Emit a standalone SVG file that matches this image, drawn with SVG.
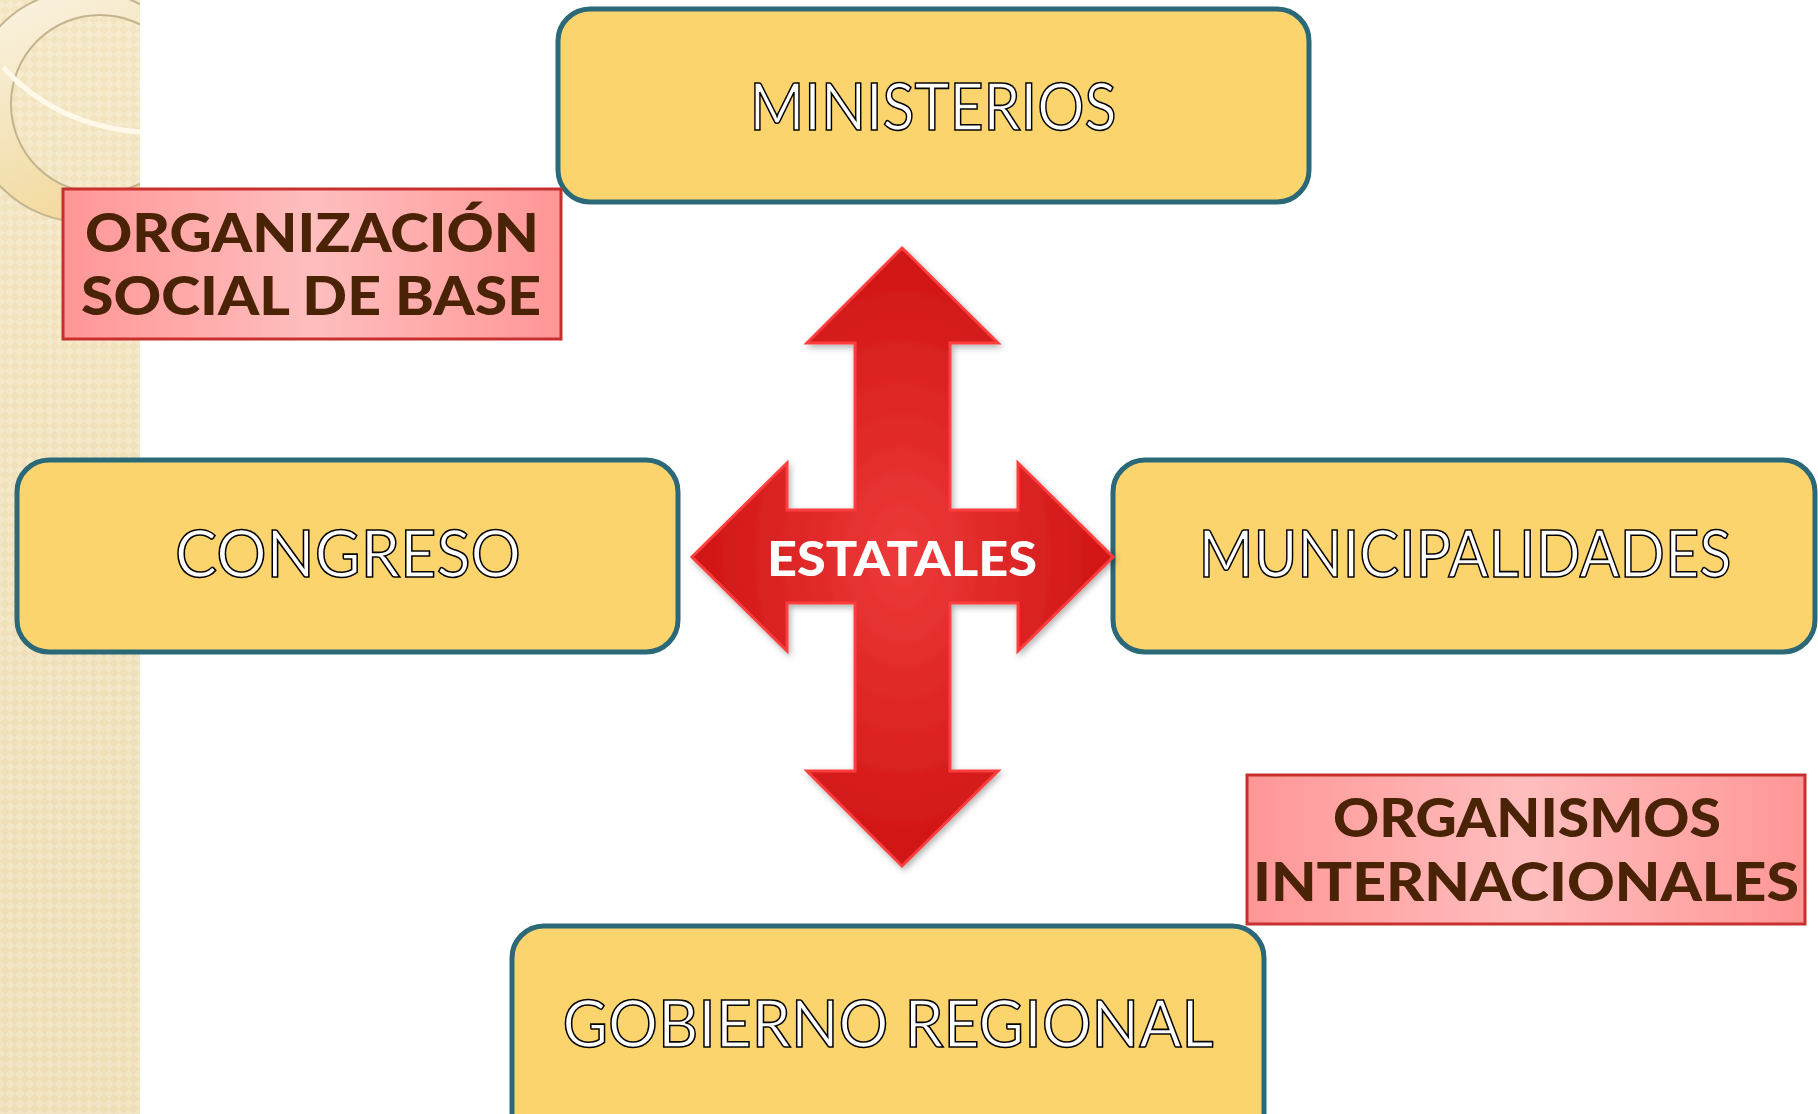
<svg xmlns="http://www.w3.org/2000/svg" width="1818" height="1114" viewBox="0 0 1818 1114">
  <defs>
    <pattern id="checker" width="14" height="14" patternUnits="userSpaceOnUse" patternTransform="rotate(45)">
      <rect width="14" height="14" fill="#EFDFB8"/>
      <rect width="7" height="7" fill="#F4E8CA"/>
      <rect x="7" y="7" width="7" height="7" fill="#F4E8CA"/>
    </pattern>
    <linearGradient id="stripShade" x1="0" y1="0" x2="0" y2="1">
      <stop offset="0" stop-color="#FFF6DC" stop-opacity="0.25"/>
      <stop offset="1" stop-color="#E8D4A4" stop-opacity="0.15"/>
    </linearGradient>
    <linearGradient id="ringGrad" x1="0" y1="0" x2="0.5" y2="1">
      <stop offset="0" stop-color="#FCF6E8"/>
      <stop offset="0.45" stop-color="#F6E8C6"/>
      <stop offset="1" stop-color="#F2D99A"/>
    </linearGradient>
    <linearGradient id="pinkGrad" x1="0" y1="0" x2="1" y2="0">
      <stop offset="0" stop-color="#FF9696"/>
      <stop offset="0.5" stop-color="#FFBEBE"/>
      <stop offset="1" stop-color="#FF9696"/>
    </linearGradient>
    <radialGradient id="redGrad" cx="0.5" cy="0.5" r="0.5">
      <stop offset="0" stop-color="#EE3A3A"/>
      <stop offset="1" stop-color="#CF1414"/>
    </radialGradient>
    <filter id="shadow" x="-10%" y="-10%" width="120%" height="120%">
      <feDropShadow dx="2" dy="3" stdDeviation="3" flood-color="#000" flood-opacity="0.3"/>
    </filter>
    <clipPath id="stripClip">
      <rect x="0" y="0" width="140" height="1114"/>
    </clipPath>
  </defs>
  <style>
    .ybox { fill: #FCD46E; stroke: #2B6878; stroke-width: 5; }
    .ytext { font-family: Lato, "Open Sans", "Liberation Sans", sans-serif; font-weight: 400; font-size: 65px; fill: #FFFFFF; stroke: #000000; stroke-width: 1.6; text-anchor: middle; }
    .rbox { fill: url(#pinkGrad); stroke: #C8302E; stroke-width: 3; }
    .rtext { font-family: Lato, "Liberation Sans", sans-serif; font-weight: 900; font-size: 54px; fill: #4A2205; text-anchor: middle; }
  </style>

  <rect width="1818" height="1114" fill="#FFFFFF"/>

  <g id="background-strip">
    <rect x="0" y="0" width="140" height="1114" fill="url(#checker)"/>
    <rect x="0" y="0" width="140" height="1114" fill="url(#stripShade)"/>
    <g clip-path="url(#stripClip)">
      <path d="M 200 106 A 116 116 0 1 1 -32 106 A 116 116 0 1 1 200 106 Z M 189 104 A 89 89 0 1 0 11 104 A 89 89 0 1 0 189 104 Z" fill="url(#ringGrad)" fill-rule="evenodd"/>
      <circle cx="84" cy="106" r="116" fill="none" stroke="#C6B690" stroke-width="2"/>
      <circle cx="100" cy="104" r="89" fill="none" stroke="#C4B48E" stroke-width="2"/>
      <path d="M 3 67 Q 55 125 140 132" fill="none" stroke="#FFF9EA" stroke-width="5"/>
    </g>
  </g>

  <g id="connectors"/>

  <g id="ministerios">
    <rect class="ybox" x="558" y="9" width="751" height="193" rx="32"/>
    <text class="ytext" x="933" y="130" textLength="367" lengthAdjust="spacingAndGlyphs">MINISTERIOS</text>
  </g>

  <g id="congreso">
    <rect class="ybox" x="17" y="460" width="661" height="192" rx="32"/>
    <text class="ytext" x="348" y="577" textLength="346" lengthAdjust="spacingAndGlyphs">CONGRESO</text>
  </g>

  <g id="municipalidades">
    <rect class="ybox" x="1113" y="460" width="702" height="192" rx="32"/>
    <text class="ytext" x="1465" y="577" textLength="533" lengthAdjust="spacingAndGlyphs">MUNICIPALIDADES</text>
  </g>

  <g id="gobierno-regional">
    <rect class="ybox" x="512" y="926" width="752" height="220" rx="32"/>
    <text class="ytext" x="888" y="1047" textLength="651" lengthAdjust="spacingAndGlyphs">GOBIERNO REGIONAL</text>
  </g>

  <g id="organizacion-social">
    <rect class="rbox" x="63" y="189" width="498" height="150"/>
    <text class="rtext" x="312" y="252" textLength="454" lengthAdjust="spacingAndGlyphs">ORGANIZACIÓN</text>
    <text class="rtext" x="311" y="315" textLength="460" lengthAdjust="spacingAndGlyphs">SOCIAL DE BASE</text>
  </g>

  <g id="organismos-internacionales">
    <rect class="rbox" x="1247" y="775" width="558" height="149"/>
    <text class="rtext" x="1527" y="837" textLength="388" lengthAdjust="spacingAndGlyphs">ORGANISMOS</text>
    <text class="rtext" x="1526" y="901" textLength="546" lengthAdjust="spacingAndGlyphs">INTERNACIONALES</text>
  </g>

  <g id="estatales">
    <polygon points="902,248 998,343 950,343 950,510 1018,510 1018,463 1113,557 1018,651 1018,603 950,603 950,771 998,771 902,866 807,771 855,771 855,603 787,603 787,651 692,557 787,463 787,510 855,510 855,343 807,343" fill="url(#redGrad)" stroke="#FF3C3C" stroke-width="3" stroke-linejoin="miter" filter="url(#shadow)"/>
    <text x="902" y="576" font-family="Lato, 'Liberation Sans', sans-serif" font-weight="900" font-size="47" fill="#FFFFFF" text-anchor="middle" textLength="270" lengthAdjust="spacingAndGlyphs">ESTATALES</text>
  </g>
</svg>
